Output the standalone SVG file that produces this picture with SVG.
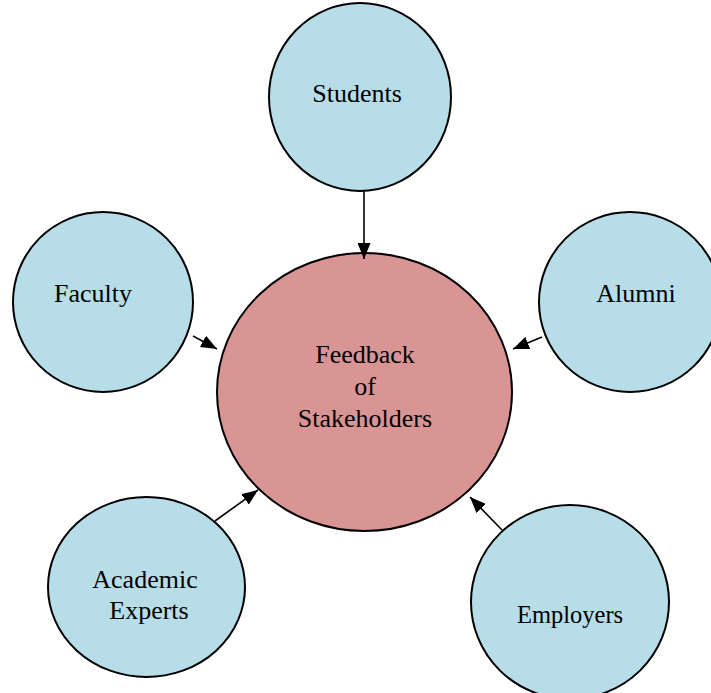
<svg xmlns="http://www.w3.org/2000/svg" width="711" height="693" viewBox="0 0 711 693">
<style>
.node{fill:#B7DDE8;stroke:#000;stroke-width:2}
.center{fill:#D99594;stroke:#000;stroke-width:2}
.lbl{font-family:"Liberation Serif","Times New Roman",serif;font-size:26px;fill:#000;text-anchor:middle}
.conn{stroke:#000;stroke-width:1.6;fill:none;marker-end:url(#ah)}
</style>
<defs>
<marker id="ah" viewBox="0 0 16 13" refX="16" refY="6.5" markerWidth="16" markerHeight="13" markerUnits="userSpaceOnUse" orient="auto">
<path d="M0,0 L16,6.5 L0,13 Z" fill="#000"/>
</marker>
</defs>
<rect width="711" height="693" fill="#fff"/>
<g id="feedback">
<ellipse class="center" cx="364.5" cy="392" rx="147.5" ry="139"/>
<text class="lbl" x="365" y="363">Feedback</text>
<text class="lbl" x="365" y="395">of</text>
<text class="lbl" x="365" y="427">Stakeholders</text>
</g>
<g id="students">
<ellipse class="node" cx="360" cy="97" rx="91" ry="94"/>
<text class="lbl" x="357" y="102">Students</text>
</g>
<g id="faculty">
<ellipse class="node" cx="103" cy="302" rx="90" ry="90"/>
<text class="lbl" x="93" y="302">Faculty</text>
</g>
<g id="alumni">
<ellipse class="node" cx="630" cy="302" rx="91" ry="90"/>
<text class="lbl" x="636" y="302">Alumni</text>
</g>
<g id="academic-experts">
<ellipse class="node" cx="146.5" cy="587" rx="98.5" ry="90"/>
<text class="lbl" x="145" y="588">Academic</text>
<text class="lbl" x="149" y="619">Experts</text>
</g>
<g id="employers">
<ellipse class="node" cx="570" cy="602" rx="99" ry="97"/>
<text class="lbl" x="570" y="623" style="font-size:24.5px">Employers</text>
</g>
<g id="connectors">
<line class="conn" x1="364" y1="191" x2="364" y2="259"/>
<line class="conn" x1="193" y1="336" x2="217" y2="349"/>
<line class="conn" x1="542" y1="337" x2="513" y2="349"/>
<line class="conn" x1="215" y1="521" x2="258" y2="490"/>
<line class="conn" x1="502" y1="530" x2="470" y2="497"/>
</g>
</svg>
